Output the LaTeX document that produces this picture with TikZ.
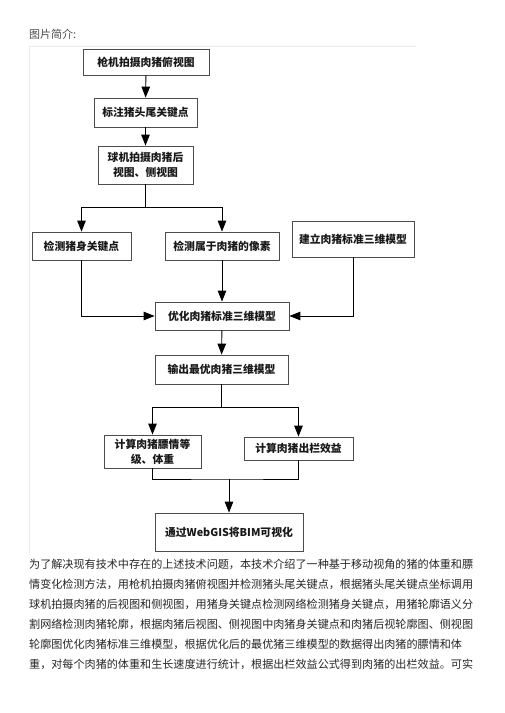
\documentclass[tikz,border=0pt]{standalone}
\usepackage{fontspec}
\setmainfont{Noto Sans CJK SC}
\usetikzlibrary{arrows.meta}
\begin{document}
\begin{tikzpicture}[x=1pt,y=-1pt,
  box/.style={draw=black!70, line width=0.8pt, rectangle, inner sep=1pt, align=center,
     font=\fontsize{10.8}{15}\selectfont\bfseries, text=black!90},
  conn/.style={draw=black, line width=0.9pt},
  arr/.style={conn, -{Triangle[length=11pt,width=8.5pt]}},
  bodyline/.style={anchor=west, inner sep=0pt, font=\fontsize{11.1}{13}\selectfont, text=black!85}
]
\useasboundingbox[fill=white] (0,0) rectangle (504,713);
% faint frame of the embedded figure
\draw[black!8, line width=0.6pt] (29,553) -- (29,46) -- (416,46);

\node[anchor=west, inner sep=0pt, font=\fontsize{11}{13}\selectfont, text=black!70] (title) at (29,34) {图片简介:};

\node[box, minimum width=126pt, minimum height=26pt] (b1) at (146,62) {枪机拍摄肉猪俯视图};
\node[box, minimum width=103pt, minimum height=29pt] (b2) at (145.5,112.5) {标注猪头尾关键点};
\node[box, minimum width=95pt, minimum height=38pt] (b3) at (145.5,165) {球机拍摄肉猪后\\视图、侧视图};
\node[box, minimum width=99pt, minimum height=28pt] (b4) at (81.5,246) {检测猪身关键点};
\node[box, minimum width=114pt, minimum height=28pt] (b5) at (222,246) {检测属于肉猪的像素};
\node[box, minimum width=122pt, minimum height=36pt] (b6) at (353,239) {建立肉猪标准三维模型};
\node[box, minimum width=134pt, minimum height=28pt] (b7) at (222,316) {优化肉猪标准三维模型};
\node[box, minimum width=133pt, minimum height=29pt] (b8) at (221.5,369.5) {输出最优肉猪三维模型};
\node[box, minimum width=97pt, minimum height=33pt] (b9) at (152.5,451.5) {计算肉猪膘情等\\级、体重};
\node[box, minimum width=109pt, minimum height=23pt] (b10) at (298.5,448.5) {计算肉猪出栏效益};
\node[box, minimum width=148pt, minimum height=38pt] (b11) at (229,532) {通过WebGIS将BIM可视化};

\coordinate (j1) at (145.5,207);
\coordinate (j2) at (221.5,407);
\coordinate (j3) at (229,479);

\draw[arr] (b1) -- (b2);
\draw[arr] (b2) -- (b3);
\draw[conn] (b3) -- (j1);
\draw[arr] (j1) -| (b4.north);
\draw[arr] (j1) -| (b5.north);
\draw[arr] (b4.south) |- (b7.west);
\draw[arr] (b5) -- (b7);
\draw[arr] (b6.south) |- (b7.east);
\draw[arr] (b7) -- (b8);
\draw[conn] (b8) -- (j2);
\draw[arr] (j2) -| (b9.north);
\draw[arr] (j2) -| (b10.north);
\draw[conn] (b9.south) |- (j3) -| (b10.south);
\draw[arr] (j3) -- (b11);

\node[bodyline] (t1) at (29,564) {为了解决现有技术中存在的上述技术问题，本技术介绍了一种基于移动视角的猪的体重和膘};
\node[bodyline] (t2) at (29,584) {情变化检测方法，用枪机拍摄肉猪俯视图并检测猪头尾关键点，根据猪头尾关键点坐标调用};
\node[bodyline] (t3) at (29,604) {球机拍摄肉猪的后视图和侧视图，用猪身关键点检测网络检测猪身关键点，用猪轮廓语义分};
\node[bodyline] (t4) at (29,624) {割网络检测肉猪轮廓，根据肉猪后视图、侧视图中肉猪身关键点和肉猪后视轮廓图、侧视图};
\node[bodyline] (t5) at (29,644) {轮廓图优化肉猪标准三维模型，根据优化后的最优猪三维模型的数据得出肉猪的膘情和体};
\node[bodyline] (t6) at (29,664) {重，对每个肉猪的体重和生长速度进行统计，根据出栏效益公式得到肉猪的出栏效益。可实};
\end{tikzpicture}
\end{document}
